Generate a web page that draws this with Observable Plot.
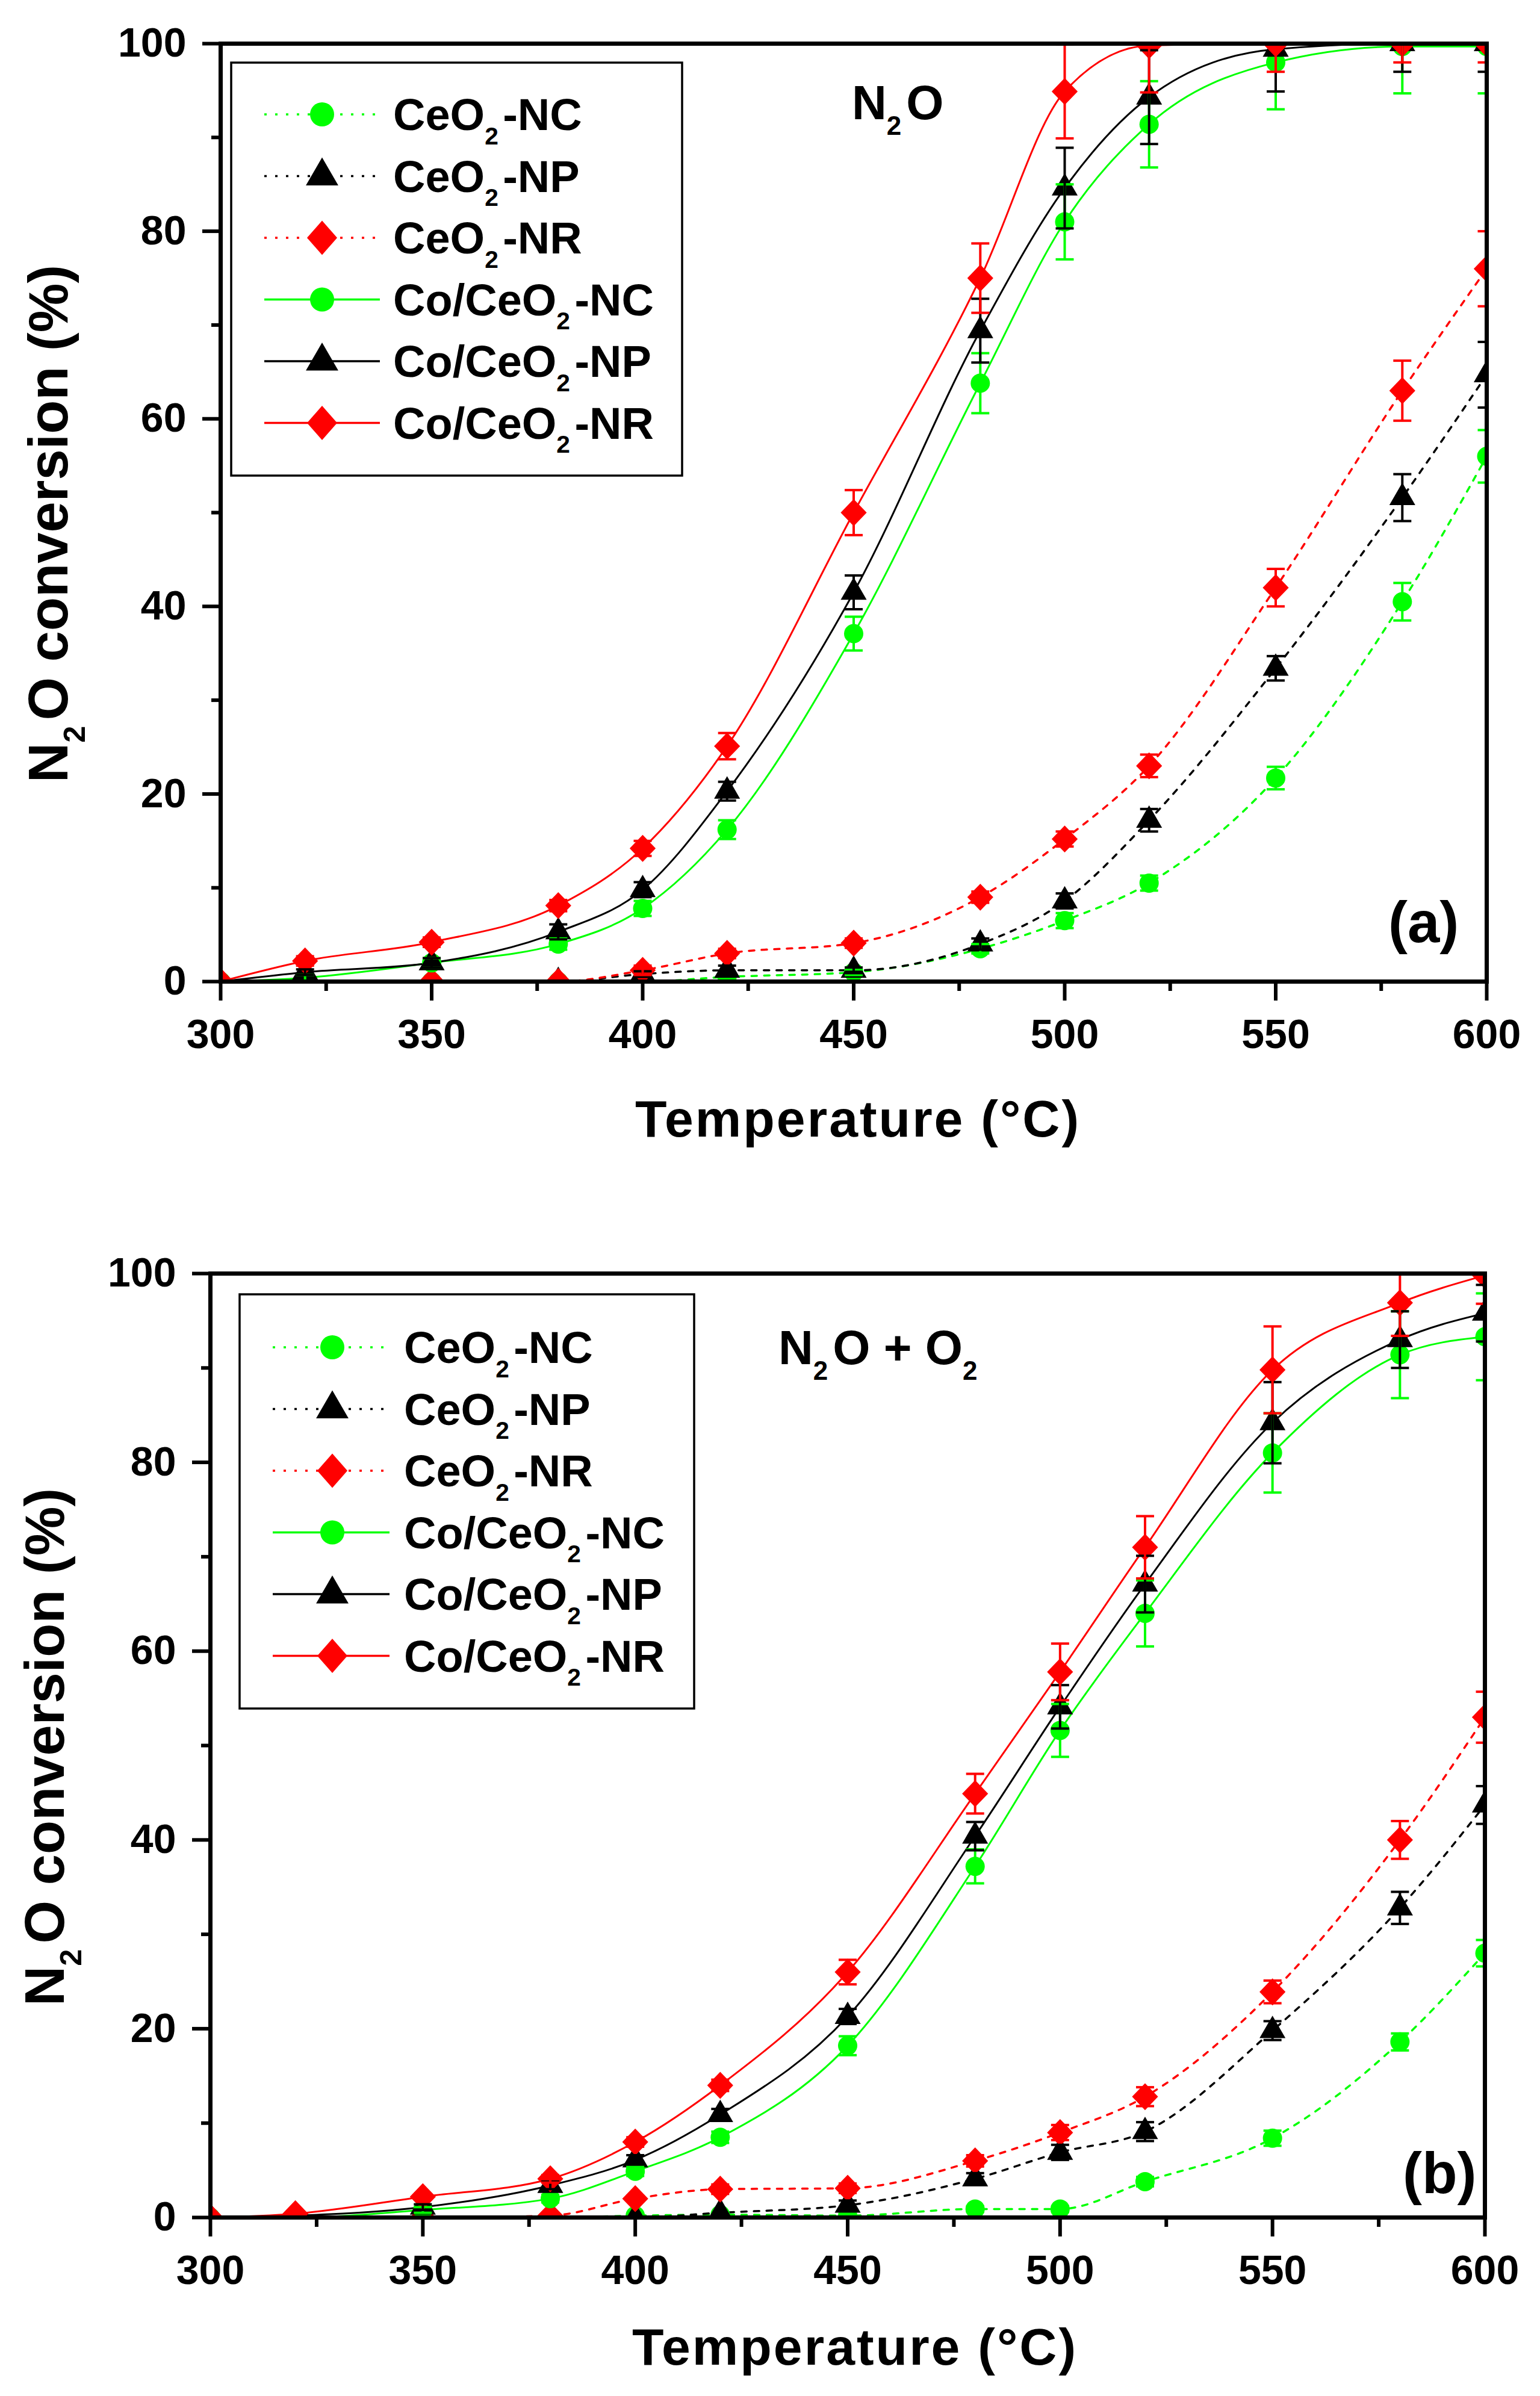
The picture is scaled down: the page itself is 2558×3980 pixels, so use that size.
<!DOCTYPE html>
<html><head><meta charset="utf-8">
<script src="https://cdn.jsdelivr.net/npm/d3@7"></script>
<script src="https://cdn.jsdelivr.net/npm/@observablehq/plot@0.6"></script>
<style>
html,body{margin:0;padding:0;background:#fff;}
#chart{width:2558px;}
#chart svg{display:block;}
</style></head><body><div id="chart"></div>
<script>
// ---------- data ----------
const temperature = [300,320,350,380,400,420,450,480,500,520,550,580,600];
const seriesNames = ["CeO2-NC","CeO2-NP","CeO2-NR","Co/CeO2-NC","Co/CeO2-NP","Co/CeO2-NR"];
const seriesColors = ["#00ff00","#000000","#ff0000","#00ff00","#000000","#ff0000"];
const seriesSymbols = ["circle","triangle","diamond","circle","triangle","diamond"];
const seriesDashed = [true,true,true,false,false,false];
const xTicks = [300,350,400,450,500,550,600];
const xMinorTicks = [325,375,425,475,525,575];
const yTicks = [0,20,40,60,80,100];
const yMinorTicks = [10,30,50,70,90];

// Panel (a): N2O
const aCeO2NC    = [0,0,0,0,0,0.5,1,3.5,6.5,10.5,21.7,40.5,56];
const aCeO2NCErr = [0,0,0,0,0,0,0.3,0.5,0.8,0.8,1.2,2,2.8];
const aCeO2NP    = [0,0,0,0,0.8,1.2,1.2,4,8.6,17.2,33.4,51.6,64.7];
const aCeO2NPErr = [0,0,0,0,0.3,0.5,0.3,0.6,0.8,1.2,1.3,2.5,3.5];
const aCeO2NR    = [0,0,0,0,1.2,3,4.1,9,15.2,23,42,63,76];
const aCeO2NRErr = [0,0,0,0,0.5,0.5,0.5,0.6,0.8,1.2,2,3.2,4];
const aCoNC      = [0,0.4,2,4,7.8,16.2,37.1,63.8,81,91.4,98,99.7,99.7];
const aCoNCErr   = [0,0.3,0.5,0.6,0.8,1,1.8,3.2,4,4.6,5,5,5];
const aCoNP      = [0,1,2,5.3,9.8,20.3,41.5,69.4,84.6,94.3,99.4,100,100];
const aCoNPErr   = [0,0.3,0.5,0.8,0.8,1,1.8,3.4,4.3,5,4.5,3,3];
const aCoNR      = [0,2.2,4.2,8.1,14.2,25.1,50,75,94.9,99.8,100,100,100];
const aCoNRErr   = [0,0.5,0.5,0.6,0.8,1.4,2.4,3.7,5,5,3,2,2];

// Panel (b): N2O + O2
const bCeO2NC    = [0,0,0,0,0.2,0.3,0.2,0.9,0.9,3.8,8.4,18.6,28];
const bCeO2NCErr = [0,0,0,0,0,0,0,0.3,0.3,0.5,0.8,0.9,1.4];
const bCeO2NP    = [0,0,0,0,0,0.5,1.3,4.1,6.9,9.1,19.8,32.8,43.7];
const bCeO2NPErr = [0,0,0,0,0,0,0.5,0.6,0.8,1,1,1.7,2];
const bCeO2NR    = [0,0,0,0.2,2,3,3.1,6,9,12.8,23.9,40,53];
const bCeO2NRErr = [0,0,0,0,0.3,0.5,0.5,0.6,0.8,1,1.2,2,2.7];
const bCoNC      = [0,0,0.8,2,4.9,8.5,18.2,37.2,51.6,64,81,91.4,93.3];
const bCoNCErr   = [0,0,0.3,0.4,0.5,0.6,1,1.8,2.8,3.5,4.2,4.6,4.6];
const bCoNP      = [0,0.2,1.1,3.4,6.1,10.9,21.3,40.4,54.1,67.1,84.2,93,95.8];
const bCoNPErr   = [0,0,0.3,0.4,0.5,0.6,0.8,1.5,2.3,3,4.3,3,3];
const bCoNR      = [0,0.4,2.2,4.1,8,14,26,44.9,57.8,71,89.8,96.9,99.8];
const bCoNRErr   = [0,0,0.3,0.4,0.5,0.6,1.3,2.1,3,3.3,4.6,3.5,3];

// ---------- helpers ----------
const FONT = "'Liberation Sans', Arial, Helvetica, sans-serif";
function diamondSym(rw, rh) {
  return {draw(ctx, size) {
    const r = Math.sqrt(size / Math.PI);
    const w = r * rw, h = r * rh;
    ctx.moveTo(0, -h); ctx.lineTo(w, 0); ctx.lineTo(0, h); ctx.lineTo(-w, 0); ctx.closePath();
  }};
}
const capSym = {draw(ctx, size) {
  const r = Math.sqrt(size / Math.PI);
  ctx.moveTo(-r, 0); ctx.lineTo(r, 0);
}};
function plotSymbol(i) {
  const s = seriesSymbols[i];
  return s === "diamond" ? diamondSym(1.35, 1.4) : s;
}
function d3Symbol(i) {
  const s = seriesSymbols[i];
  if (s === "diamond") return diamondSym(1.25, 1.42);
  if (s === "triangle") return d3.symbolTriangle;
  return d3.symbolCircle;
}
function richText(sel, str, fs) {
  const parts = str.split(/(\d)/).filter(s => s.length);
  let prevSub = false;
  parts.forEach(p => {
    const isSub = /^\d$/.test(p);
    const ts = sel.append("tspan").text(p);
    if (isSub) ts.attr("font-size", fs * 0.55).attr("dy", fs * 0.32);
    else if (prevSub) ts.attr("dy", -fs * 0.32).attr("dx", fs * 0.1);
    prevSub = isSub;
  });
}

function makePanel(cfg) {
  const rows = [];
  cfg.values.forEach((vals, i) => temperature.forEach((t, j) => {
    rows.push({series: i, t, v: vals[j], e: cfg.errors[i][j]});
  }));
  const marks = [];
  seriesNames.forEach((n, i) => {
    marks.push(Plot.line(rows.filter(d => d.series === i), {
      x: "t", y: "v", stroke: seriesColors[i], strokeWidth: seriesDashed[i] ? 3.5 : 3,
      strokeDasharray: seriesDashed[i] ? "9,12" : null, curve: "monotone-x", clip: true
    }));
  });
  seriesNames.forEach((n, i) => {
    marks.push(Plot.dot(rows.filter(d => d.series === i), {
      x: "t", y: "v", r: 16, symbol: plotSymbol(i), fill: seriesColors[i], stroke: "none", clip: true
    }));
  });
  seriesNames.forEach((n, i) => {
    const eb = rows.filter(d => d.series === i && d.e > 0.25);
    marks.push(Plot.ruleX(eb, {x: "t", y1: d => d.v - d.e, y2: d => d.v + d.e, stroke: seriesColors[i], strokeWidth: 4, clip: true}));
    marks.push(Plot.dot(eb, {x: "t", y: d => d.v - d.e, r: 15, symbol: capSym, stroke: seriesColors[i], strokeWidth: 4, fill: "none", clip: true}));
    marks.push(Plot.dot(eb, {x: "t", y: d => d.v + d.e, r: 15, symbol: capSym, stroke: seriesColors[i], strokeWidth: 4, fill: "none", clip: true}));
  });
  marks.push(
    Plot.axisX({ticks: xTicks, tickSize: 32, tickPadding: 30, strokeWidth: 6, label: null, fontSize: 68, fontWeight: "bold"}),
    Plot.axisX({ticks: xMinorTicks, tickSize: 16, strokeWidth: 6, tickFormat: () => "", label: null}),
    Plot.axisY({ticks: yTicks, tickSize: 30, tickPadding: 27, strokeWidth: 6, label: null, fontSize: 68, fontWeight: "bold"}),
    Plot.axisY({ticks: yMinorTicks, tickSize: 15, strokeWidth: 6, tickFormat: () => "", label: null}),
    Plot.frame({strokeWidth: 7})
  );
  const svg = Plot.plot({
    width: 2558, height: cfg.height,
    marginTop: cfg.mt, marginBottom: cfg.mb, marginLeft: cfg.ml, marginRight: cfg.mr,
    x: {domain: [300, 600]}, y: {domain: [0, 100]},
    style: {fontSize: "68px", fontWeight: "bold", fontFamily: FONT, color: "black", background: "white"},
    marks
  });
  const g = d3.select(svg).append("g").attr("font-family", FONT).attr("font-weight", "bold").attr("fill", "black");
  // legend
  const L = cfg.legend;
  g.append("rect").attr("x", L.x0).attr("y", L.y0).attr("width", L.x1 - L.x0).attr("height", L.y1 - L.y0)
    .attr("fill", "white").attr("stroke", "black").attr("stroke-width", 3.5);
  seriesNames.forEach((name, i) => {
    const y = L.r0 + i * L.dy;
    g.append("line").attr("x1", L.lx0).attr("x2", L.lx1).attr("y1", y).attr("y2", y)
      .attr("stroke", seriesColors[i]).attr("stroke-width", 3.5)
      .attr("stroke-dasharray", seriesDashed[i] ? "4,14" : null);
    g.append("path").attr("transform", `translate(${L.mx},${y})`)
      .attr("d", d3.symbol(d3Symbol(i), Math.PI * 20 * 20)()).attr("fill", seriesColors[i]);
    const t = g.append("text").attr("x", L.tx).attr("y", y + 26).attr("font-size", 74).attr("text-anchor", "start");
    richText(t, name, 74);
  });
  // gas annotation
  const ga = g.append("text").attr("x", cfg.gas.x).attr("y", cfg.gas.y).attr("font-size", 80).attr("text-anchor", "start");
  richText(ga, cfg.gas.text, 80);
  // panel letter
  g.append("text").attr("x", cfg.letter.x).attr("y", cfg.letter.y).attr("font-size", 96)
    .attr("text-anchor", "start").text(cfg.letter.text);
  // axis labels
  g.append("text").attr("x", cfg.xl.x).attr("y", cfg.xl.y).attr("font-size", 86)
    .attr("letter-spacing", 3).attr("text-anchor", "middle").text("Temperature (°C)");
  const yl = g.append("text").attr("transform", `translate(${cfg.yl.x},${cfg.yl.y}) rotate(-90)`)
    .attr("font-size", 92).attr("text-anchor", "middle");
  richText(yl, "N2O conversion (%)", 92);
  return svg;
}

const chart = document.getElementById("chart");
chart.appendChild(makePanel({
  height: 1990, mt: 72, mb: 360, ml: 366, mr: 89,
  values: [aCeO2NC, aCeO2NP, aCeO2NR, aCoNC, aCoNP, aCoNR],
  errors: [aCeO2NCErr, aCeO2NPErr, aCeO2NRErr, aCoNCErr, aCoNPErr, aCoNRErr],
  legend: {x0: 384, x1: 1133, y0: 104, y1: 790, r0: 190, dy: 102.5, lx0: 439, lx1: 631, mx: 535, tx: 653},
  gas: {x: 1415, y: 198, text: "N2O"},
  letter: {x: 2306, y: 1565, text: "(a)"},
  xl: {x: 1425, y: 1888},
  yl: {x: 112, y: 870}
}));
chart.appendChild(makePanel({
  height: 1990, mt: 125, mb: 297, ml: 349, mr: 92,
  values: [bCeO2NC, bCeO2NP, bCeO2NR, bCoNC, bCoNP, bCoNR],
  errors: [bCeO2NCErr, bCeO2NPErr, bCeO2NRErr, bCoNCErr, bCoNPErr, bCoNRErr],
  legend: {x0: 398, x1: 1153, y0: 160, y1: 848, r0: 248, dy: 102.5, lx0: 453, lx1: 647, mx: 552, tx: 671},
  gas: {x: 1293, y: 276, text: "N2O + O2"},
  letter: {x: 2330, y: 1653, text: "(b)"},
  xl: {x: 1420, y: 1938},
  yl: {x: 106, y: 912}
}));
</script></body></html>
